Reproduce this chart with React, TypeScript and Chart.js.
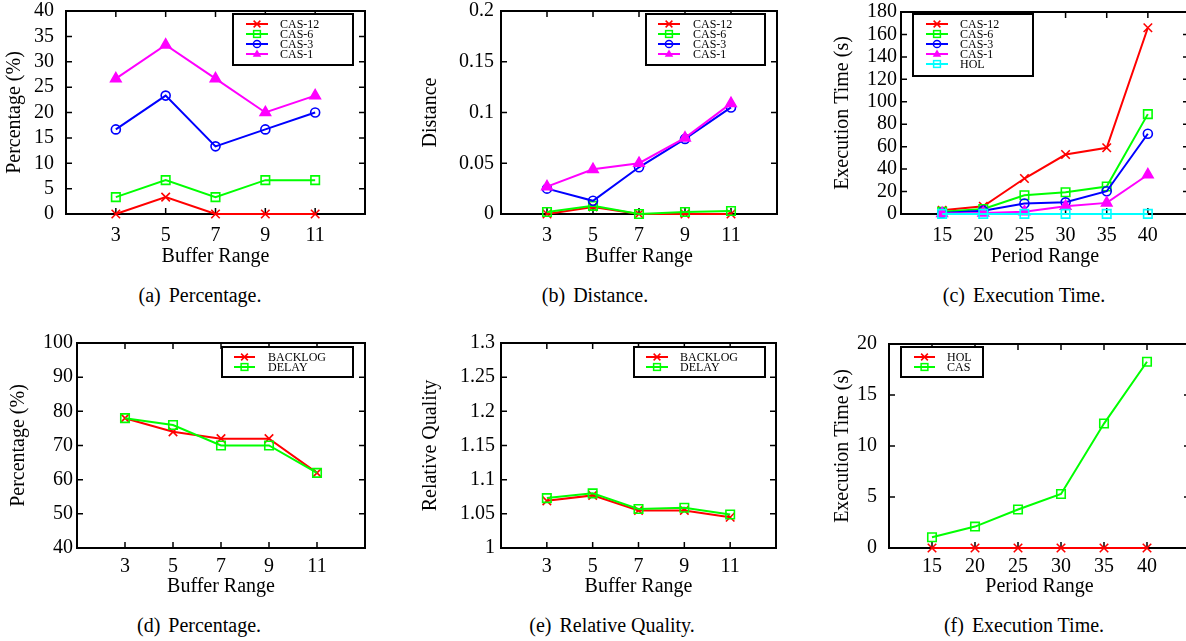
import React, { useEffect, useRef } from 'react';
import { Chart, registerables } from 'chart.js';

Chart.register(...registerables);

// ---------------- data ----------------
const bufferRange = [3, 5, 7, 9, 11];
const periodRange = [15, 20, 25, 30, 35, 40];
const bufferTickLabels = ['3', '5', '7', '9', '11'];
const periodTickLabels = ['15', '20', '25', '30', '35', '40'];

const pctTicks = [0, 5, 10, 15, 20, 25, 30, 35, 40];
const distTicks = [0, 0.05, 0.1, 0.15, 0.2];
const timeTicks = [0, 20, 40, 60, 80, 100, 120, 140, 160, 180];
const mechPctTicks = [40, 50, 60, 70, 80, 90, 100];
const qualityTicks = [1, 1.05, 1.1, 1.15, 1.2, 1.25, 1.3];
const execTicks = [0, 5, 10, 15, 20];

// (a) Percentage
const pctCas12 = [0, 3.33, 0, 0, 0];
const pctCas6 = [3.33, 6.67, 3.33, 6.67, 6.67];
const pctCas3 = [16.67, 23.33, 13.33, 16.67, 20];
const pctCas1 = [26.67, 33.33, 26.67, 20, 23.33];

// (b) Distance
const distCas12 = [0, 0.007, 0, 0, 0];
const distCas6 = [0.002, 0.008, 0, 0.002, 0.003];
const distCas3 = [0.025, 0.013, 0.046, 0.074, 0.105];
const distCas1 = [0.027, 0.044, 0.05, 0.075, 0.109];

// (c) Execution time
const timeCas12 = [3.3, 6.9, 31.6, 53, 59, 166];
const timeCas6 = [2, 4.5, 16.7, 19.4, 24.5, 89];
const timeCas3 = [1, 3, 9.3, 10.4, 20.3, 71.5];
const timeCas1 = [0.5, 1, 2, 6.9, 9.9, 35];
const timeHol = [0.1, 0.1, 0.1, 0.1, 0.1, 0.1];

// (d) Percentage
const mechPctBacklog = [78, 74, 72, 72, 62];
const mechPctDelay = [78, 76, 70, 70, 62];

// (e) Relative quality
const qualityBacklog = [1.069, 1.077, 1.055, 1.055, 1.045];
const qualityDelay = [1.073, 1.08, 1.057, 1.059, 1.049];

// (f) Execution time
const execHol = [0, 0, 0, 0, 0, 0];
const execCas = [1.05, 2.1, 3.77, 5.3, 12.2, 18.26];

// ---------------- styles ----------------
const RED = '#ff0000';
const GREEN = '#00ff00';
const BLUE = '#0000ff';
const MAGENTA = '#ff00ff';
const CYAN = '#00ffff';
const SERIF = "'Liberation Serif', 'Times New Roman', serif";

type Marker = 'x' | 'sq' | 'circ' | 'tri';
type Series = { label: string; values: number[]; color: string; marker: Marker };
type Legend = { box: [number, number, number, number]; sx0: number; sx1: number; tx: number; rows: number[] };
type PanelCfg = {
  id: string;
  cx: number; cy: number; w: number; h: number;
  plotL: number; plotR: number; plotT: number; plotB: number;
  yTitleX: number; yTickGap: number; xTickCenter: number; xTitleCenter: number;
  xs: number[]; xTickLabels: string[]; xMin: number; xMax: number;
  yTicks: number[]; yMin: number; yMax: number;
  xTitle: string; yTitle: string;
  series: Series[];
  legend: Legend;
  caption: string; capTag: string; capX: number; capY: number;
};

const caseSeries = (a: number[], b: number[], c: number[], d: number[]): Series[] => [
  { label: 'CAS-12', values: a, color: RED, marker: 'x' },
  { label: 'CAS-6', values: b, color: GREEN, marker: 'sq' },
  { label: 'CAS-3', values: c, color: BLUE, marker: 'circ' },
  { label: 'CAS-1', values: d, color: MAGENTA, marker: 'tri' },
];

const panels: PanelCfg[] = [
  {
    id: 'a', cx: 0, cy: 0, w: 395, h: 280,
    plotL: 66, plotR: 365, plotT: 11, plotB: 214,
    yTitleX: 15, yTickGap: 12, xTickCenter: 236, xTitleCenter: 257,
    xs: bufferRange, xTickLabels: bufferTickLabels, xMin: 1, xMax: 13,
    yTicks: pctTicks, yMin: 0, yMax: 40,
    xTitle: 'Buffer Range', yTitle: 'Percentage (%)',
    series: caseSeries(pctCas12, pctCas6, pctCas3, pctCas1),
    legend: { box: [233, 14, 353, 65], sx0: 246, sx1: 268, tx: 280, rows: [24, 34, 44, 54] },
    capTag: '(a)', caption: 'Percentage.', capX: 200, capY: 295,
  },
  {
    id: 'b', cx: 395, cy: 0, w: 395, h: 280,
    plotL: 501, plotR: 777, plotT: 11, plotB: 214,
    yTitleX: 431, yTickGap: 7, xTickCenter: 236, xTitleCenter: 257,
    xs: bufferRange, xTickLabels: bufferTickLabels, xMin: 1, xMax: 13,
    yTicks: distTicks, yMin: 0, yMax: 0.2,
    xTitle: 'Buffer Range', yTitle: 'Distance',
    series: caseSeries(distCas12, distCas6, distCas3, distCas1),
    legend: { box: [646, 14, 765, 65], sx0: 658, sx1: 680, tx: 693, rows: [24, 34, 44, 54] },
    capTag: '(b)', caption: 'Distance.', capX: 595, capY: 295,
  },
  {
    id: 'c', cx: 790, cy: 0, w: 410, h: 280,
    plotL: 901, plotR: 1189, plotT: 12, plotB: 214,
    yTitleX: 843, yTickGap: 4, xTickCenter: 236, xTitleCenter: 257,
    xs: periodRange, xTickLabels: periodTickLabels, xMin: 10, xMax: 45,
    yTicks: timeTicks, yMin: 0, yMax: 180,
    xTitle: 'Period Range', yTitle: 'Execution Time (s)',
    series: [
      ...caseSeries(timeCas12, timeCas6, timeCas3, timeCas1),
      { label: 'HOL', values: timeHol, color: CYAN, marker: 'sq' },
    ],
    legend: { box: [913, 14, 1033, 76], sx0: 926, sx1: 948, tx: 960, rows: [24, 34, 44, 54, 64] },
    capTag: '(c)', caption: 'Execution Time.', capX: 1024, capY: 295,
  },
  {
    id: 'd', cx: 0, cy: 320, w: 395, h: 290,
    plotL: 77, plotR: 365, plotT: 343, plotB: 548,
    yTitleX: 19, yTickGap: 4, xTickCenter: 567, xTitleCenter: 587,
    xs: bufferRange, xTickLabels: bufferTickLabels, xMin: 1, xMax: 13,
    yTicks: mechPctTicks, yMin: 40, yMax: 100,
    xTitle: 'Buffer Range', yTitle: 'Percentage (%)',
    series: [
      { label: 'BACKLOG', values: mechPctBacklog, color: RED, marker: 'x' },
      { label: 'DELAY', values: mechPctDelay, color: GREEN, marker: 'sq' },
    ],
    legend: { box: [222, 347, 353, 377], sx0: 234, sx1: 255, tx: 268, rows: [357, 367] },
    capTag: '(d)', caption: 'Percentage.', capX: 199, capY: 625,
  },
  {
    id: 'e', cx: 395, cy: 320, w: 395, h: 290,
    plotL: 501, plotR: 776, plotT: 343, plotB: 548,
    yTitleX: 431, yTickGap: 6, xTickCenter: 567, xTitleCenter: 587,
    xs: bufferRange, xTickLabels: bufferTickLabels, xMin: 1, xMax: 13,
    yTicks: qualityTicks, yMin: 1, yMax: 1.3,
    xTitle: 'Buffer Range', yTitle: 'Relative Quality',
    series: [
      { label: 'BACKLOG', values: qualityBacklog, color: RED, marker: 'x' },
      { label: 'DELAY', values: qualityDelay, color: GREEN, marker: 'sq' },
    ],
    legend: { box: [634, 347, 765, 377], sx0: 646, sx1: 668, tx: 680, rows: [357, 367] },
    capTag: '(e)', caption: 'Relative Quality.', capX: 612, capY: 625,
  },
  {
    id: 'f', cx: 790, cy: 320, w: 410, h: 290,
    plotL: 889, plotR: 1190, plotT: 344, plotB: 548,
    yTitleX: 843, yTickGap: 12, xTickCenter: 567, xTitleCenter: 587,
    xs: periodRange, xTickLabels: periodTickLabels, xMin: 10, xMax: 45,
    yTicks: execTicks, yMin: 0, yMax: 20,
    xTitle: 'Period Range', yTitle: 'Execution Time (s)',
    series: [
      { label: 'HOL', values: execHol, color: RED, marker: 'x' },
      { label: 'CAS', values: execCas, color: GREEN, marker: 'sq' },
    ],
    legend: { box: [901, 347, 983, 377], sx0: 914, sx1: 935, tx: 947, rows: [357, 367] },
    capTag: '(f)', caption: 'Execution Time.', capX: 1024, capY: 625,
  },
];

const pointStyleOf = (m: Marker) =>
  m === 'x' ? 'crossRot' : m === 'sq' ? 'rect' : m === 'circ' ? 'circle' : 'triangle';
const radiusOf = (m: Marker) => (m === 'circ' ? 4.5 : m === 'x' ? 6 : m === 'sq' ? 6 : 6);

function drawMarker(ctx: CanvasRenderingContext2D, m: Marker, x: number, y: number, r: number, color: string) {
  ctx.save();
  ctx.strokeStyle = color;
  ctx.fillStyle = color;
  ctx.lineWidth = 1.5;
  ctx.beginPath();
  if (m === 'x') {
    const d = r * 0.75;
    ctx.moveTo(x - d, y - d); ctx.lineTo(x + d, y + d);
    ctx.moveTo(x + d, y - d); ctx.lineTo(x - d, y + d);
    ctx.stroke();
  } else if (m === 'sq') {
    const d = r * 0.75;
    ctx.strokeRect(x - d, y - d, 2 * d, 2 * d);
  } else if (m === 'circ') {
    ctx.arc(x, y, r * 0.8, 0, Math.PI * 2);
    ctx.stroke();
  } else {
    ctx.moveTo(x, y - r);
    ctx.lineTo(x + r * 0.95, y + r * 0.6);
    ctx.lineTo(x - r * 0.95, y + r * 0.6);
    ctx.closePath();
    ctx.fill();
  }
  ctx.restore();
}

function makePlugin(p: PanelCfg) {
  return {
    id: 'gnuframe_' + p.id,
    beforeDatasetsDraw(chart: any) {
      const { ctx, chartArea: a, scales } = chart;
      ctx.save();
      ctx.strokeStyle = '#000';
      ctx.lineWidth = 1.5;
      ctx.beginPath();
      scales.y.ticks.forEach((t: any) => {
        const y = scales.y.getPixelForValue(t.value);
        ctx.moveTo(a.left, y); ctx.lineTo(a.left + 6, y);
        ctx.moveTo(a.right, y); ctx.lineTo(a.right - 6, y);
      });
      scales.x.ticks.forEach((t: any) => {
        const x = scales.x.getPixelForValue(t.value);
        ctx.moveTo(x, a.bottom); ctx.lineTo(x, a.bottom - 6);
        ctx.moveTo(x, a.top); ctx.lineTo(x, a.top + 6);
      });
      ctx.stroke();
      ctx.lineWidth = 2;
      ctx.strokeRect(a.left, a.top, a.right - a.left, a.bottom - a.top);
      ctx.restore();
    },
    afterDraw(chart: any) {
      const ctx: CanvasRenderingContext2D = chart.ctx;
      const L = p.legend;
      const ox = p.cx, oy = p.cy;
      ctx.save();
      ctx.fillStyle = '#fff';
      ctx.fillRect(L.box[0] - ox, L.box[1] - oy, L.box[2] - L.box[0], L.box[3] - L.box[1]);
      ctx.strokeStyle = '#000';
      ctx.lineWidth = 2;
      ctx.strokeRect(L.box[0] - ox, L.box[1] - oy, L.box[2] - L.box[0], L.box[3] - L.box[1]);
      p.series.forEach((s, i) => {
        const y = L.rows[i] - oy;
        ctx.strokeStyle = s.color;
        ctx.lineWidth = 2;
        ctx.beginPath();
        ctx.moveTo(L.sx0 - ox, y);
        ctx.lineTo(L.sx1 - ox, y);
        ctx.stroke();
        drawMarker(ctx, s.marker, (L.sx0 + L.sx1) / 2 - ox, y, 4.5, s.color);
        ctx.fillStyle = '#000';
        ctx.font = `12px ${SERIF}`;
        ctx.textBaseline = 'middle';
        ctx.textAlign = 'left';
        ctx.fillText(s.label, L.tx - ox, y + 0.5);
      });
      ctx.restore();
    },
  };
}

function buildConfig(p: PanelCfg): any {
  const lh = 24;
  const xAxisBottom = p.xTitleCenter + lh / 2;
  const n = p.series.length;
  return {
    type: 'line',
    data: {
      datasets: p.series.map((s, i) => ({
        label: s.label,
        data: p.xs.map((x, k) => ({ x, y: s.values[k] })),
        borderColor: s.color,
        backgroundColor: s.marker === 'x' || s.marker === 'tri' ? s.color : 'rgba(0,0,0,0)',
        borderWidth: 2,
        pointStyle: pointStyleOf(s.marker),
        pointRadius: radiusOf(s.marker),
        pointBorderWidth: 1.6,
        pointBorderColor: s.color,
        pointBackgroundColor: s.marker === 'tri' ? s.color : 'rgba(0,0,0,0)',
        tension: 0,
        fill: false,
        clip: false,
        order: n - i,
      })),
    },
    options: {
      animation: false,
      responsive: false,
      maintainAspectRatio: false,
      devicePixelRatio: 1,
      events: [],
      layout: {
        padding: {
          left: 0,
          top: p.plotT - p.cy,
          right: p.cx + p.w - p.plotR,
          bottom: p.cy + p.h - xAxisBottom,
        },
      },
      plugins: { legend: { display: false }, tooltip: { enabled: false }, title: { display: false } },
      scales: {
        x: {
          type: 'linear',
          min: p.xMin,
          max: p.xMax,
          afterBuildTicks: (s: any) => { s.ticks = p.xs.map((v) => ({ value: v })); },
          afterFit: (s: any) => {
            s.height = xAxisBottom - p.plotB;
            s.paddingLeft = 0; s.paddingRight = 0; s.paddingTop = 0; s.paddingBottom = 0;
          },
          grid: { display: false, drawTicks: false },
          border: { display: false },
          ticks: {
            color: '#000',
            font: { family: SERIF, size: 20, lineHeight: 1.2 },
            padding: p.xTickCenter - p.plotB - lh / 2,
            autoSkip: false,
            maxRotation: 0,
            minRotation: 0,
            callback: (v: number) => {
              const idx = p.xs.indexOf(v);
              return idx >= 0 ? p.xTickLabels[idx] : '';
            },
          },
          title: {
            display: true,
            text: p.xTitle,
            color: '#000',
            font: { family: SERIF, size: 20, lineHeight: 1.2 },
            padding: { top: 0, bottom: 0 },
          },
        },
        y: {
          type: 'linear',
          min: p.yMin,
          max: p.yMax,
          afterBuildTicks: (s: any) => { s.ticks = p.yTicks.map((v) => ({ value: v })); },
          afterFit: (s: any) => {
            s.width = p.plotL - p.cx;
            s.paddingLeft = 0; s.paddingRight = 0; s.paddingTop = 0; s.paddingBottom = 0;
          },
          grid: { display: false, drawTicks: false },
          border: { display: false },
          ticks: {
            color: '#000',
            font: { family: SERIF, size: 20, lineHeight: 1.2 },
            padding: p.yTickGap,
            autoSkip: false,
            callback: (v: number) => String(v),
          },
          title: {
            display: true,
            text: p.yTitle,
            color: '#000',
            font: { family: SERIF, size: 20, lineHeight: 1.2 },
            padding: { top: p.yTitleX - p.cx - lh / 2, bottom: 0 },
          },
        },
      },
    },
    plugins: [makePlugin(p)],
  };
}

function Panel({ p }: { p: PanelCfg }) {
  const ref = useRef<HTMLCanvasElement>(null);
  useEffect(() => {
    if (!ref.current) return;
    const chart = new Chart(ref.current, buildConfig(p));
    return () => chart.destroy();
  }, [p]);
  return (
    <>
      <canvas
        ref={ref}
        width={p.w}
        height={p.h}
        style={{ position: 'absolute', left: p.cx, top: p.cy, width: p.w, height: p.h }}
      />
      <div
        style={{
          position: 'absolute',
          left: p.capX - 150,
          top: p.capY - 12,
          width: 300,
          height: 24,
          lineHeight: '24px',
          textAlign: 'center',
          fontFamily: SERIF,
          fontSize: 20,
          color: '#000',
          whiteSpace: 'nowrap',
        }}
      >
        <span>{p.capTag} </span>
        <span style={{ marginLeft: 3 }}>{p.caption}</span>
      </div>
    </>
  );
}

export default function App() {
  return (
    <div
      style={{
        position: 'absolute',
        left: 0,
        top: 0,
        width: 1186,
        height: 641,
        overflow: 'hidden',
        background: '#fff',
      }}
    >
      {panels.map((p) => (
        <Panel key={p.id} p={p} />
      ))}
    </div>
  );
}
